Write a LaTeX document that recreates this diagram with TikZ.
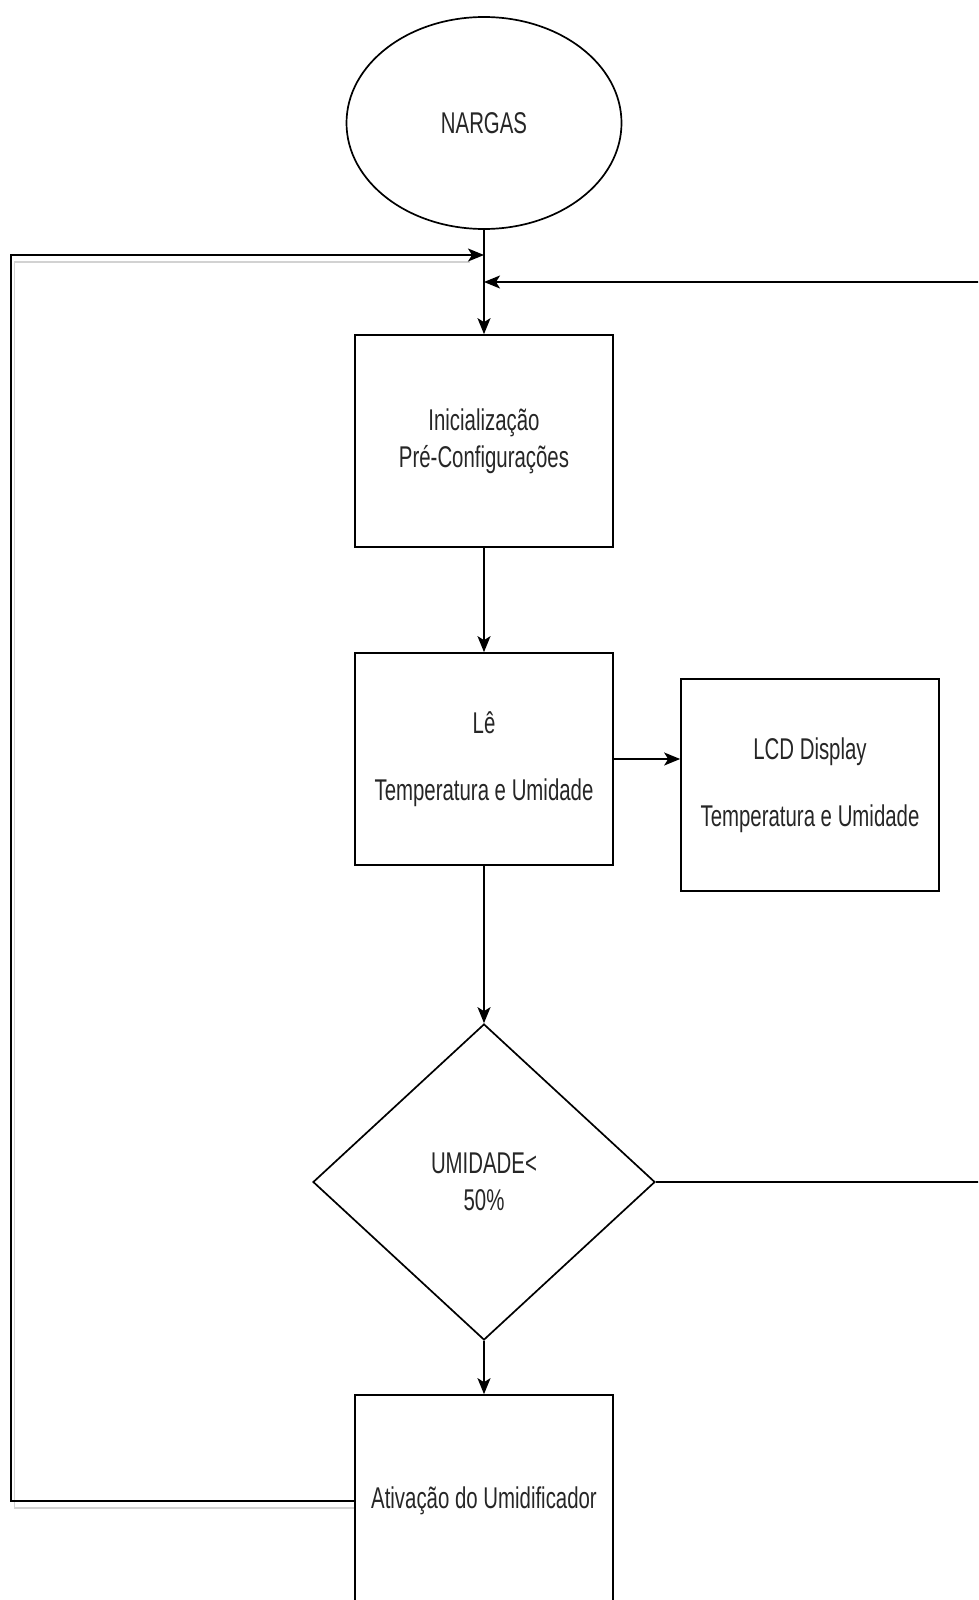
\documentclass[tikz,border=0pt]{standalone}
\usepackage{fontspec}
\setmainfont{Liberation Sans}
\usetikzlibrary{arrows.meta}
\usetikzlibrary{shapes.geometric}
\newcommand{\slim}[1]{\scalebox{0.68}[1]{#1}}
\tikzset{box/.style = {draw, rectangle, minimum width = 258, minimum height = 212, inner sep = 0, align = center}}
\tikzset{start/.style = {draw, ellipse, minimum width = 275, minimum height = 212, inner sep = 0}}
\tikzset{decision/.style = {draw, diamond, aspect = 1.08, minimum width = 342, minimum height = 316, inner sep = 0, align = center}}
\tikzset{flow/.style = {-{Stealth[length = 16pt, width = 13pt, inset = 4pt]}}}
\tikzset{ghost/.style = {gray!35, line width = 1.6pt}}

\begin{document}
\begin{tikzpicture}[x = 1pt, y = -1pt, line width = 1.7pt, font = \fontsize{30}{37}\selectfont, text = black!85]
  \clip (0, 0) rectangle (978, 1600);
  \node [start] (nargas) at (484, 123) {\slim{NARGAS}};
  \node [box] (init) at (484, 441) {\slim{Inicialização}\\\slim{Pré-Configurações}};
  \node [box] (read) at (484, 759) {\slim{Lê}\\[30pt]\slim{Temperatura e Umidade}};
  \node [box] (lcd) at (810, 785) {\slim{LCD Display}\\[30pt]\slim{Temperatura e Umidade}};
  \node [decision] (test) at (484, 1182) {\slim{UMIDADE<}\\\slim{50\%}};
  \node [box] (act) at (484, 1501) {\slim{Ativação do Umidificador}};
  \coordinate (loopL) at (11, 255);
  \coordinate (loopR) at (992, 282);
  \draw [ghost] ([yshift = -7pt]act.west) -| ([xshift = 3.5pt, yshift = -7pt]loopL) -- ++(455, 0);
  \draw [flow] (nargas) -- (init);
  \draw [flow] (init) -- (read);
  \draw [flow] (read.east) -- (read.east -| lcd.west);
  \draw [flow] (read) -- (test);
  \draw [flow] (test) -- (act);
  \draw [flow] (test.east) -| (loopR) -- (loopR -| init.north);
  \draw [flow] (act.west) -| (loopL) -- (loopL -| init.north);
\end{tikzpicture}
\end{document}
